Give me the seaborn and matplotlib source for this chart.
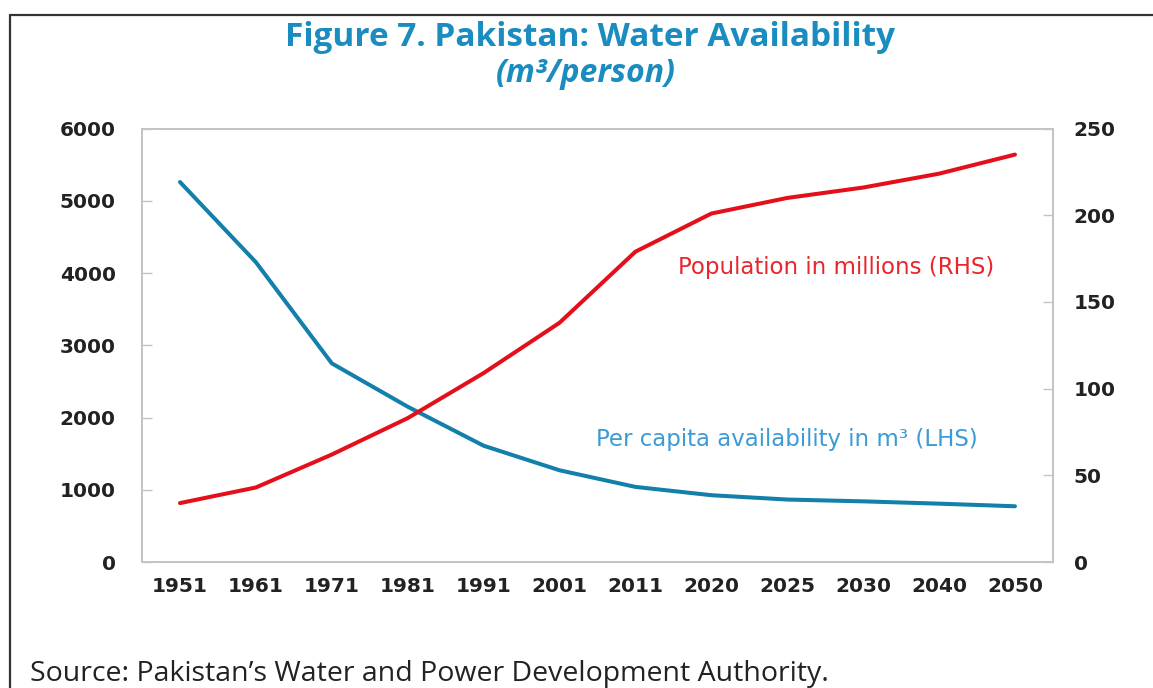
# Pakistan water availability vs population (Figure 7)
import matplotlib
matplotlib.use("Agg")
import matplotlib.pyplot as plt
from matplotlib.lines import Line2D
from matplotlib.ticker import FixedLocator
import seaborn as sns
import pandas as pd

# --- data ---
years = ["1951", "1961", "1971", "1981", "1991", "2001",
         "2011", "2020", "2025", "2030", "2040", "2050"]
per_capita = [5260, 4150, 2750, 2150, 1610, 1270,
              1040, 925, 865, 840, 808, 772]        # m3 per person (LHS)
population = [34, 43, 62, 83, 109, 138,
              179, 201, 210, 216, 224, 235]          # millions (RHS)

df = pd.DataFrame({"year": years, "per_capita": per_capita, "population": population})

sns.set_style("white")
plt.rcParams["font.family"] = ["DejaVu Sans"]

BLUE = "#137fab"
RED = "#e3101b"
SPINE = "#c4c4c4"
TICKTXT = "#222222"

fig = plt.figure(figsize=(11.53, 6.88), dpi=100)
ax = fig.add_axes([0.1232, 0.1831, 0.79, 0.630])
ax2 = ax.twinx()

sns.lineplot(data=df, x="year", y="per_capita", ax=ax, color=BLUE, lw=2.9)
sns.lineplot(data=df, x="year", y="population", ax=ax2, color=RED, lw=2.9)

ax.set_xlim(-0.5, len(years) - 0.5)
ax.set_ylim(0, 6000)
ax2.set_ylim(0, 250)
ax.set_yticks(range(0, 6001, 1000))
ax2.set_yticks(range(0, 251, 50))
ax.set_xlabel("")
ax.set_ylabel("")
ax2.set_ylabel("")

# tick marks between categories, labels centred
ax.xaxis.set_minor_locator(FixedLocator([i + 0.5 for i in range(len(years) - 1)]))
ax.tick_params(axis="x", which="major", length=0, pad=11, labelsize=14.5, labelcolor=TICKTXT)
ax.tick_params(axis="x", which="minor", direction="in", length=7, width=1, color=SPINE)
ax.tick_params(axis="y", direction="in", length=7, width=1, color=SPINE, pad=19,
               labelsize=14.5, labelcolor=TICKTXT)
ax2.tick_params(axis="y", direction="in", length=7, width=1, color=SPINE, pad=15,
                labelsize=14.5, labelcolor=TICKTXT)
ax.tick_params(axis="y", which="both", left=True)
ax2.tick_params(axis="y", right=True)

for lab in ax.get_xticklabels() + ax.get_yticklabels() + ax2.get_yticklabels():
    lab.set_fontweight("bold")

for a in (ax, ax2):
    for s in a.spines.values():
        s.set_color(SPINE)
        s.set_linewidth(1.3)

# in-plot series labels
ax2.text(8.65, 170, "Population in millions (RHS)", color="#e8262c", fontsize=16.5,
         ha="center", va="center")
ax.text(8.0, 1690, "Per capita availability in m³ (LHS)", color="#3b9bd6", fontsize=16.5,
        ha="center", va="center")

# titles
fig.text(0.512, 0.945, "Figure 7. Pakistan: Water Availability", color="#1a8cc0",
         fontsize=24, fontweight="bold", family=["Open Sans", "DejaVu Sans"],
         ha="center", va="center")
fig.text(0.508, 0.893, "(m³/person)", color="#1a8cc0", fontsize=23,
         fontweight="bold", style="italic", family=["Open Sans", "DejaVu Sans"],
         ha="center", va="center")

# source note
fig.text(0.026, 1 - 681 / 688, "Source: Pakistan’s Water and Power Development Authority.",
         color="#222222", fontsize=20.5, family=["Open Sans", "DejaVu Sans"],
         ha="left", va="baseline")

# outer frame (top and left edges)
fig.add_artist(Line2D([0.009, 1.0], [1 - 15 / 688, 1 - 15 / 688],
                      transform=fig.transFigure, color="#333333", lw=1.6))
fig.add_artist(Line2D([0.009, 0.009], [0.0, 1 - 15 / 688],
                      transform=fig.transFigure, color="#333333", lw=1.6))

fig.savefig("out.png", dpi=100)
